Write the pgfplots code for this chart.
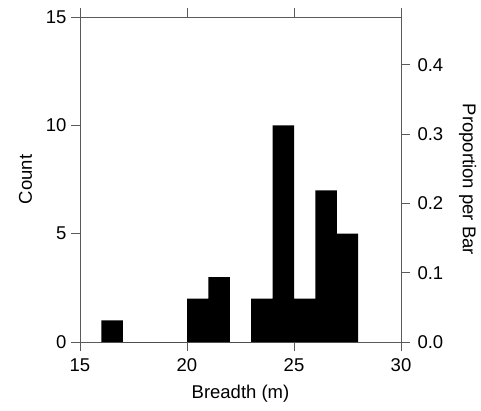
\documentclass[border=0pt]{standalone}
\usepackage{fontspec}
\setmainfont{Liberation Sans}
\usepackage{pgfplots}
\pgfplotsset{compat=1.18}
\definecolor{axgray}{HTML}{5A5A5A}
\pgfplotsset{mystyle/.style={
  scale only axis, width=321pt, height=325pt,
  axis line style={draw=axgray, line width=0.9pt},
  tick style={draw=axgray, line width=0.9pt},
  tick align=outside, major tick length=9pt,
  tick label style={font=\fontsize{18.5}{22}\selectfont},
  label style={font=\fontsize{18.5}{22}\selectfont},
  /pgf/number format/assume math mode=true,
  xmin=15, xmax=30,
}}
\begin{document}
\begin{tikzpicture}
\begin{axis}[mystyle, name=main,
  ymin=0, ymax=15,
  xtick={15,20,25,30}, ytick={0,5,10,15},
  xtick pos=both, ytick pos=left,
  xticklabel pos=bottom,
  xticklabel style={yshift=-4pt},
  yticklabel style={xshift=-1pt},
  xlabel={Breadth (m)}, ylabel={Count},
  xlabel style={yshift=-7pt},
  ylabel style={yshift=7pt},
]
\addplot[ybar interval, fill=black, draw=none] coordinates {
(16,1) (17,0) (18,0) (19,0) (20,2) (21,3) (22,0) (23,2) (24,10) (25,2) (26,7) (27,5) (28,0)
};
\end{axis}
\begin{axis}[mystyle,
  ymin=0, ymax=0.46875,
  hide x axis,
  axis y line*=right,
  ytick={0,0.1,0.2,0.3,0.4},
  yticklabel style={xshift=4pt, /pgf/number format/.cd, fixed, fixed zerofill, precision=1},
  ylabel={Proportion per Bar},
  ylabel style={rotate=180, yshift=9pt},
]
\addplot[draw=none] coordinates {(15,0)};
\end{axis}
\pgfresetboundingbox
\path[use as bounding box] ([xshift=-80pt,yshift=-68pt]main.south west) rectangle ([xshift=80pt,yshift=17pt]main.north east);
\end{tikzpicture}
\end{document}
